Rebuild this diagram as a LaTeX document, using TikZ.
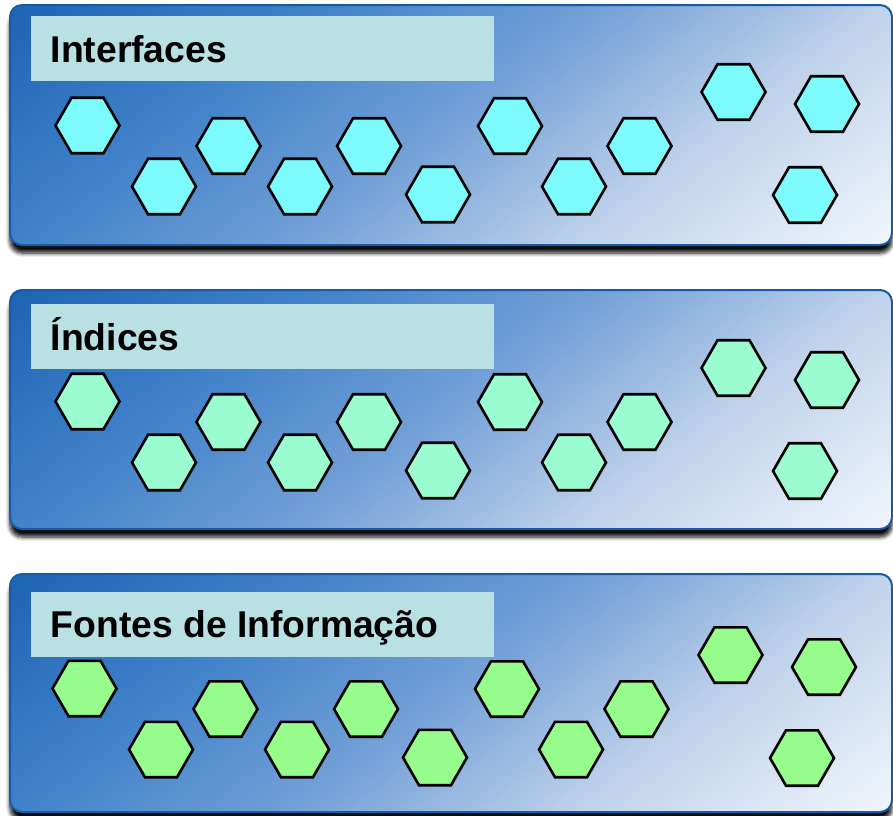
\documentclass[tikz,border=0pt]{standalone}
\usepackage{fontspec}
\setmainfont{Liberation Sans}
\usetikzlibrary{shapes.geometric,shadows.blur}
\definecolor{panelborder}{RGB}{22,92,165}
\definecolor{pgA}{RGB}{30,100,180}
\definecolor{pgB}{RGB}{62,128,200}
\definecolor{pgC}{RGB}{115,160,215}
\definecolor{pgD}{RGB}{192,211,235}
\definecolor{pgE}{RGB}{242,246,252}
\definecolor{labelfill}{RGB}{185,224,226}
\definecolor{hexcyan}{RGB}{125,250,252}
\definecolor{hexmint}{RGB}{155,252,210}
\definecolor{hexgreen}{RGB}{150,252,140}
\pgfdeclarehorizontalshading{panelgrad}{100bp}{color(0bp)=(pgA); color(25bp)=(pgA); color(37.2bp)=(pgB); color(49.8bp)=(pgC); color(61.9bp)=(pgD); color(75bp)=(pgE); color(100bp)=(pgE)}
\tikzset{
  panelshadow/.style={rounded corners=12pt,
    blur shadow={shadow xshift=0pt, shadow yshift=-8pt, shadow blur steps=6, shadow opacity=95, shadow blur radius=4pt}},
  panelframe/.style={rounded corners=12pt, draw=panelborder, line width=2pt},
  labelbox/.style={fill=labelfill, draw=none, inner sep=0pt, anchor=north west},
  labeltext/.style={anchor=base west, inner sep=0pt, font=\fontsize{37.3}{40}\selectfont\bfseries},
  hexagon/.style={regular polygon, regular polygon sides=6, minimum size=64pt, inner sep=0pt, draw=black, line width=2.6pt},
}
\begin{document}
\begin{tikzpicture}[x=1pt,y=-1pt]
\useasboundingbox (0,0) rectangle (893,815);
\foreach \p/\top/\bot/\lt/\lb/\dx/\dy/\col/\txt/\bl in {
  1/5/245/16/81/0/0/hexcyan/Interfaces/62,
  2/290/529/304/369/0/276/hexmint/Índices/350,
  3/574/812/592/657/-3/563/hexgreen/Fontes de Informação/637}{
  \path[panelshadow] (10,\top) rectangle (892,\bot);
  \begin{scope}
    \clip[rounded corners=12pt] (10,\top) rectangle (892,\bot);
    \shade[shading=panelgrad, transform canvas={shift={(451,{(\top+\bot)/2})}, rotate=-52.2}] (-365,-700) rectangle (365,700);
  \end{scope}
  \draw[panelframe] (10,\top) rectangle (892,\bot);
  \node[labelbox, minimum width=463pt, minimum height=\lb-\lt] (lab\p) at (31,\lt) {};
  \node[labeltext] (txt\p) at (50.5,\bl) {\txt};
  \foreach \i/\x/\y in {1/87.5/125.5, 2/164/186.5, 3/228.5/146, 4/300/186.5, 5/369/146, 6/438/194.5,
      7/510/126, 8/574/186.5, 9/639.5/146, 10/733.5/92, 11/827/104, 12/805/195}{
    \node[hexagon, fill=\col] (p\p h\i) at (\x+\dx,\y+\dy) {};
  }
}
\end{tikzpicture}
\end{document}
